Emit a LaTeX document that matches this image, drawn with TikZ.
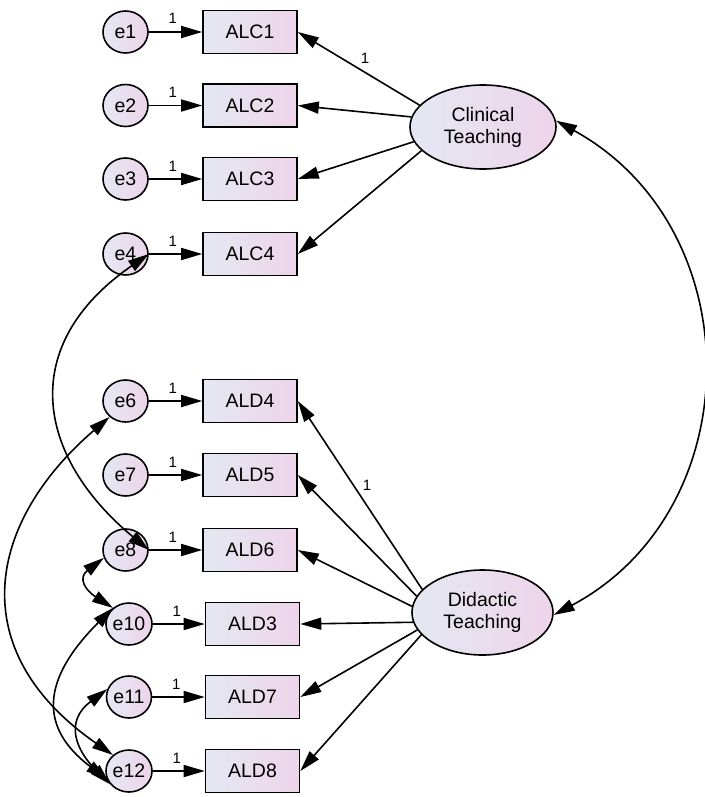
\documentclass[tikz,border=0pt]{standalone}
\usepackage{fontspec}
\setmainfont{Liberation Sans}
\usetikzlibrary{arrows.meta,shapes.geometric}
\definecolor{gl}{RGB}{228,232,242}
\definecolor{gr}{RGB}{238,212,234}
\begin{document}
\begin{tikzpicture}[x=1pt,y=-1pt,
  shaded/.style={draw, line width=1.6pt, left color=gl, right color=gr, inner sep=0pt, font=\fontsize{19.5}{22}\selectfont},
  obs/.style={shaded, rectangle, minimum width=94pt, minimum height=43pt},
  err/.style={shaded, ellipse, minimum width=45pt, minimum height=42pt},
  lat/.style={shaded, ellipse, align=center},
  arr/.style={line width=1.6pt, -{Triangle[length=21pt,width=12pt]}},
  cov/.style={line width=1.6pt, {Triangle[length=21pt,width=12pt]}-{Triangle[length=21pt,width=12pt]}},
  one/.style={font=\fontsize{15}{15}\selectfont, inner sep=0pt},
  onel/.style={one, anchor=base, pos=0, xshift=24pt, yshift=8pt}
]
\useasboundingbox (0,0) rectangle (704,797);

% latent variables
\node[lat, minimum width=146pt, minimum height=84pt] (CT) at (483,127) {Clinical\\Teaching};
\node[lat, minimum width=141pt, minimum height=85pt] (DT) at (482.5,612.5) {Didactic\\Teaching};

% observed variables
\node[obs] (ALC1) at (250,32) {ALC1};
\node[obs] (ALC2) at (250,105.5) {ALC2};
\node[obs] (ALC3) at (250,179) {ALC3};
\node[obs] (ALC4) at (250,254) {ALC4};
\node[obs] (ALD4) at (250,401) {ALD4};
\node[obs] (ALD5) at (250,475) {ALD5};
\node[obs] (ALD6) at (250,550) {ALD6};
\node[obs] (ALD3) at (252.5,624) {ALD3};
\node[obs] (ALD7) at (252.5,697) {ALD7};
\node[obs] (ALD8) at (252.5,771) {ALD8};

% errors
\node[err] (e1) at (125.5,32) {e1};
\node[err] (e2) at (125.5,105.5) {e2};
\node[err] (e3) at (125.5,179) {e3};
\node[err] (e4) at (125.5,254) {e4};
\node[err] (e6) at (125.5,401) {e6};
\node[err] (e7) at (125.5,475) {e7};
\node[err] (e8) at (125.5,550) {e8};
\node[err] (e10) at (129,624) {e10};
\node[err] (e11) at (129,697) {e11};
\node[err] (e12) at (129,771) {e12};

% error paths
\draw[arr] (e1) -- node[onel] {1} (ALC1);
\draw[arr] (e2) -- node[onel] {1} (ALC2);
\draw[arr] (e3) -- node[onel] {1} (ALC3);
\draw[arr] (e4) -- node[onel] {1} (ALC4);
\draw[arr] (e6) -- node[onel] {1} (ALD4);
\draw[arr] (e7) -- node[onel] {1} (ALD5);
\draw[arr] (e8) -- node[onel] {1} (ALD6);
\draw[arr] (e10) -- node[onel] {1} (ALD3);
\draw[arr] (e11) -- node[onel] {1} (ALD7);
\draw[arr] (e12) -- node[onel] {1} (ALD8);

% loadings
\draw[arr] (CT.161) -- (ALC1.east);
\draw[arr] (CT.172) -- (ALC2.east);
\draw[arr] (CT.192) -- (ALC3.east);
\draw[arr] (CT.201) -- (ALC4.east);
\node[one] (l1) at (365,58) {1};

\draw[arr] (DT.159) -- (ALD4.east);
\draw[arr] (DT.166) -- (ALD5.east);
\draw[arr] (DT.175) -- (ALD6.east);
\draw[arr] (DT.188) -- (ALD3.east);
\draw[arr] (DT.195) -- (ALD7.east);
\draw[arr] (DT.200) -- (ALD8.east);
\node[one] (l2) at (367,485) {1};

% covariances
\draw[cov] (CT.5) .. controls +(196,108) and +(197,-105) .. (DT.-2);
\draw[cov] (e4.east) .. controls +(-133,92) and +(-112,-93) .. (e8.east);
\draw[cov] (e6.225) .. controls +(-122,105) and +(-151,-105) .. (e12.135);
\draw[cov] (e8.200) .. controls +(-26,20) and +(-28,-18) .. (e10.135);
\draw[cov] (e10.135) .. controls +(-71,71) and +(-69,-52) .. (e12.200);
\draw[cov] (e11.160) .. controls +(-44,33) and +(-33,-33) .. (e12.215);
\end{tikzpicture}
\end{document}
